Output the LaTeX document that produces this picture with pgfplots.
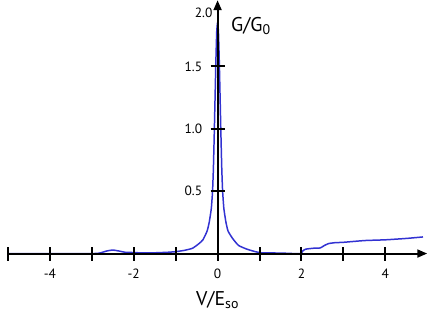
\documentclass[border=0pt]{standalone}
\usepackage{fontspec}
\setmainfont{PT Sans}
\usepackage{pgfplots}
\pgfplotsset{compat=1.18}
\usetikzlibrary{arrows.meta}
\definecolor{curveblue}{RGB}{50,50,210}

\begin{document}
\begin{tikzpicture}
\begin{axis}[
    x=42bp, y=125bp,
    xmin=-5, xmax=5, ymin=0, ymax=2.03,
    axis lines=middle,
    axis on top,
    clip=false,
    hide obscured x ticks=false,
    hide obscured y ticks=false,
    axis line style={line width=2pt, -{Triangle[length=10pt,width=8pt]}},
    xtick={-5,-4,-3,-2,-1,0,1,2,3,4},
    xticklabels={,-4,,-2,,0,,2,,4},
    ytick={0.5,1,1.5},
    yticklabels={0.5,1.0,1.5},
    tick align=center,
    major tick length=14pt,
    tick style={line width=2pt, black},
    /pgf/number format/assume math mode=true,
    ticklabel style={font=\fontsize{13.5}{15}\selectfont},
    xticklabel style={yshift=-5pt},
    yticklabel style={xshift=-5pt},
]
\addplot[curveblue, line width=1.5pt, smooth, tension=0.3] coordinates {
    (-5.0,0) (-4.8,0) (-3.0,0) (-2.8,0.005) (-2.65,0.02) (-2.5,0.028)
    (-2.35,0.02) (-2.2,0.01) (-2.0,0.008) (-1.8,0.005) (-1.5,0.006)
    (-1.2,0.01) (-1.0,0.015) (-0.8,0.025) (-0.6,0.042) (-0.45,0.078)
    (-0.35,0.11) (-0.25,0.18) (-0.2,0.25) (-0.15,0.36) (-0.12,0.5)
    (-0.1,0.68) (-0.08,0.95) (-0.06,1.25) (-0.04,1.55) (-0.02,1.78)
    (0,1.85)
    (0.02,1.78) (0.04,1.55) (0.06,1.25) (0.08,0.95) (0.1,0.68)
    (0.12,0.5) (0.15,0.36) (0.2,0.25) (0.25,0.18) (0.36,0.12)
    (0.5,0.065) (0.7,0.035) (0.9,0.015) (1.0,0.008) (1.1,0.005)
    (1.5,0.004) (1.8,0) (2.0,0)
};
\addplot[curveblue, line width=1.5pt, smooth, tension=0.3] coordinates {
    (2.0,0) (2.03,0.02) (2.1,0.035) (2.3,0.043) (2.45,0.045)
    (2.55,0.065) (2.65,0.08) (2.8,0.087) (3.0,0.09) (3.5,0.104)
    (4.0,0.11) (4.5,0.121) (4.9,0.133)
};
\node[anchor=east, font=\fontsize{13.5}{15}\selectfont, inner sep=0pt]
    at (axis cs:-0.12,1.93) {2.0};
\node[anchor=west, font=\fontsize{20}{24}\selectfont, inner sep=0pt]
    at (axis cs:0.32,1.82) {G/G\textsubscript{0}};
\node[font=\fontsize{20}{24}\selectfont, inner sep=0pt]
    at (axis cs:0,-0.37) {V/E\textsubscript{so}};
\coordinate (bl) at (axis cs:-5.19,-0.536);
\coordinate (tr) at (axis cs:5.21,2.032);
\end{axis}
\pgfresetboundingbox
\path (bl) rectangle (tr);
\end{tikzpicture}
\end{document}
